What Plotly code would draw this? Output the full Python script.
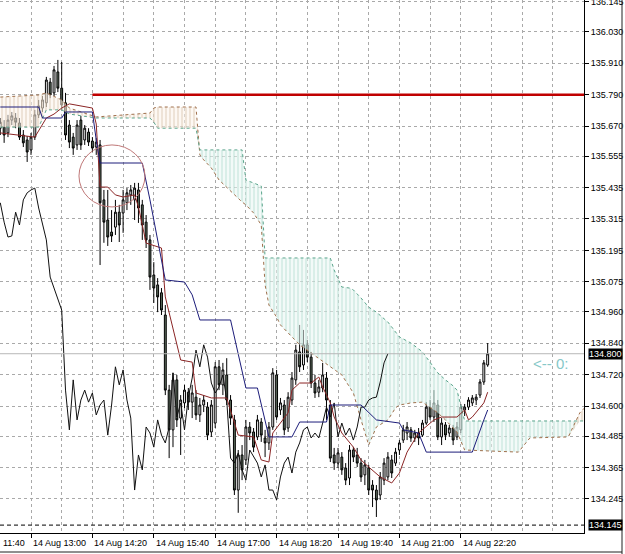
import numpy as np
import pandas as pd
import plotly.graph_objects as go

# ---------------- data (M5 bars) ----------------
first_bar = "2014-08-14 12:20"
bar_minutes = 5

opens = [135.662, 135.666, 135.644, 135.693, 135.701, 135.682, 135.636, 135.617, 135.579, 135.628,
         135.713, 135.739, 135.759, 135.838, 135.797, 135.877, 135.815, 135.759, 135.674, 135.628,
         135.598, 135.693, 135.617, 135.647, 135.613, 135.590, 135.598, 135.388, 135.311, 135.265,
         135.284, 135.341, 135.338, 135.377, 135.407, 135.388, 135.426, 135.369, 135.303, 135.235,
         135.101, 135.063, 135.033, 134.948, 134.661, 134.509, 134.700, 134.554, 134.612, 134.653,
         134.615, 134.634, 134.566, 134.604, 134.596, 134.501, 134.535, 134.750, 134.681, 134.719,
         134.623, 134.547, 134.279, 134.413, 134.394, 134.520, 134.501, 134.482, 134.539, 134.478,
         134.459, 134.520, 134.719, 134.585, 134.604, 134.516, 134.623, 134.700, 134.807, 134.757,
         134.834, 134.787, 134.688, 134.653, 134.669, 134.707, 134.604, 134.413, 134.382, 134.405,
         134.363, 134.325, 134.432, 134.413, 134.382, 134.337, 134.363, 134.298, 134.279, 134.260,
         134.317, 134.329, 134.394, 134.382, 134.432, 134.470, 134.497, 134.509, 134.478, 134.497,
         134.489, 134.535, 134.596, 134.558, 134.604, 134.482, 134.528, 134.497, 134.516, 134.482,
         134.509, 134.585, 134.596, 134.612, 134.623, 134.642, 134.692, 134.757]
highs = [135.701, 135.693, 135.713, 135.724, 135.720, 135.701, 135.655, 135.632, 135.644, 135.732,
         135.770, 135.785, 135.858, 135.854, 135.900, 135.923, 135.915, 135.797, 135.693, 135.644,
         135.693, 135.709, 135.674, 135.662, 135.628, 135.624, 135.617, 135.426, 135.426, 135.349,
         135.388, 135.369, 135.426, 135.433, 135.445, 135.453, 135.453, 135.388, 135.330, 135.254,
         135.150, 135.089, 135.051, 134.986, 134.681, 134.727, 134.719, 134.642, 134.681, 134.669,
         134.681, 134.661, 134.631, 134.642, 134.615, 134.623, 134.768, 134.776, 134.765, 134.783,
         134.642, 134.566, 134.432, 134.451, 134.547, 134.539, 134.516, 134.566, 134.554, 134.509,
         134.539, 134.745, 134.738, 134.631, 134.623, 134.653, 134.730, 134.834, 134.910, 134.891,
         134.853, 134.807, 134.719, 134.700, 134.765, 134.730, 134.623, 134.440, 134.440, 134.424,
         134.382, 134.451, 134.444, 134.440, 134.401, 134.394, 134.375, 134.317, 134.298, 134.348,
         134.401, 134.424, 134.413, 134.440, 134.470, 134.528, 134.539, 134.520, 134.509, 134.516,
         134.547, 134.615, 134.623, 134.661, 134.623, 134.554, 134.539, 134.528, 134.528, 134.539,
         134.608, 134.608, 134.634, 134.642, 134.646, 134.703, 134.776, 134.841]
lows = [135.636, 135.606, 135.628, 135.674, 135.662, 135.617, 135.590, 135.533, 135.560, 135.617,
        135.701, 135.724, 135.743, 135.777, 135.785, 135.800, 135.732, 135.617, 135.586, 135.560,
        135.579, 135.579, 135.598, 135.594, 135.571, 135.560, 135.139, 135.224, 135.212, 135.227,
        135.254, 135.227, 135.262, 135.349, 135.369, 135.311, 135.300, 135.235, 135.204, 135.044,
        134.994, 134.959, 134.948, 134.642, 134.401, 134.443, 134.520, 134.413, 134.592, 134.585,
        134.554, 134.547, 134.539, 134.577, 134.470, 134.482, 134.516, 134.661, 134.642, 134.604,
        134.528, 134.260, 134.192, 134.317, 134.375, 134.470, 134.424, 134.470, 134.463, 134.405,
        134.432, 134.509, 134.547, 134.566, 134.489, 134.501, 134.604, 134.681, 134.730, 134.738,
        134.768, 134.669, 134.631, 134.634, 134.653, 134.547, 134.386, 134.356, 134.363, 134.337,
        134.298, 134.298, 134.386, 134.367, 134.310, 134.298, 134.260, 134.214, 134.176, 134.241,
        134.298, 134.317, 134.325, 134.371, 134.413, 134.459, 134.470, 134.463, 134.463, 134.451,
        134.482, 134.528, 134.547, 134.539, 134.470, 134.451, 134.470, 134.482, 134.451, 134.470,
        134.497, 134.562, 134.585, 134.600, 134.604, 134.631, 134.681, 134.750]
closes = [135.685, 135.636, 135.693, 135.709, 135.685, 135.628, 135.606, 135.571, 135.628, 135.713,
          135.747, 135.770, 135.846, 135.789, 135.885, 135.815, 135.751, 135.636, 135.609, 135.586,
          135.674, 135.598, 135.662, 135.609, 135.586, 135.609, 135.377, 135.303, 135.246, 135.250,
          135.341, 135.292, 135.388, 135.415, 135.426, 135.433, 135.357, 135.292, 135.235, 135.093,
          135.051, 135.017, 134.967, 134.661, 134.509, 134.700, 134.547, 134.623, 134.661, 134.615,
          134.650, 134.566, 134.604, 134.623, 134.489, 134.604, 134.750, 134.681, 134.738, 134.623,
          134.554, 134.279, 134.413, 134.356, 134.520, 134.497, 134.443, 134.547, 134.489, 134.459,
          134.520, 134.727, 134.558, 134.612, 134.509, 134.634, 134.707, 134.814, 134.750, 134.834,
          134.787, 134.688, 134.650, 134.673, 134.719, 134.623, 134.401, 134.382, 134.421, 134.356,
          134.317, 134.432, 134.405, 134.382, 134.329, 134.375, 134.279, 134.279, 134.241, 134.329,
          134.382, 134.405, 134.344, 134.424, 134.459, 134.509, 134.520, 134.478, 134.497, 134.478,
          134.535, 134.596, 134.558, 134.612, 134.482, 134.535, 134.489, 134.516, 134.470, 134.520,
          134.596, 134.596, 134.623, 134.631, 134.634, 134.692, 134.765, 134.800]

# Ichimoku lines (bar index of each vertex, value)
tenkan_bars = [0, 9, 12, 14, 16, 18, 24, 25, 26, 28, 30, 32, 35, 36, 38, 42, 43, 47, 50, 51, 55, 59,
               62, 66, 68, 70, 71, 75, 76, 78, 81, 83, 84, 86, 87, 89, 92, 94, 96, 99, 102, 104, 106,
               109, 113, 115, 119, 121, 122, 123, 126, 127]
tenkan = [135.644, 135.628, 135.701, 135.716, 135.739, 135.755, 135.739, 135.678, 135.437, 135.437,
          135.407, 135.399, 135.407, 135.361, 135.223, 135.204, 135.017, 134.776, 134.768, 134.650,
          134.631, 134.631, 134.489, 134.482, 134.394, 134.386, 134.497, 134.574, 134.661, 134.688,
          134.688, 134.711, 134.673, 134.612, 134.558, 134.497, 134.443, 134.394, 134.367, 134.329,
          134.306, 134.344, 134.424, 134.497, 134.547, 134.558, 134.558, 134.585, 134.547, 134.558,
          134.612, 134.653]
kijun_bars = [0, 10, 11, 16, 17, 24, 25, 26, 37, 38, 39, 42, 43, 48, 50, 52, 60, 64, 67, 70, 76, 78,
              85, 86, 94, 98, 104, 105, 109, 111, 123, 126, 127]
kijun = [135.743, 135.743, 135.701, 135.701, 135.724, 135.724, 135.617, 135.529, 135.529, 135.464,
         135.388, 135.158, 135.082, 135.074, 135.025, 134.929, 134.929, 134.669, 134.669, 134.482,
         134.482, 134.539, 134.539, 134.604, 134.604, 134.547, 134.535, 134.509, 134.497, 134.424,
         134.424, 134.547, 134.585]
cloud_bars = [0, 10, 12, 16, 18, 25, 39, 40, 41, 51, 52, 53, 55, 57, 63, 64, 66, 68, 69, 70, 72, 73,
              78, 81, 86, 87, 89, 91, 92, 94, 96, 98, 101, 103, 104, 107, 110, 114, 116, 118, 119,
              121, 135, 138, 148, 151, 153]
senkou_a = [135.781, 135.789, 135.797, 135.770, 135.739, 135.705, 135.720, 135.739, 135.743, 135.743,
            135.560, 135.541, 135.510, 135.464, 135.380, 135.369, 135.338, 135.292, 135.063, 134.986,
            134.940, 134.910, 134.834, 134.803, 134.750, 134.738, 134.719, 134.673, 134.650, 134.547,
            134.451, 134.520, 134.547, 134.593, 134.604, 134.612, 134.615, 134.574, 134.547, 134.516,
            134.501, 134.432, 134.424, 134.478, 134.482, 134.574, 134.604]
senkou_b = [135.666, 135.666, 135.732, 135.732, 135.716, 135.701, 135.701, 135.685, 135.662, 135.662,
            135.579, 135.579, 135.579, 135.579, 135.579, 135.464, 135.453, 135.441, 135.166, 135.166,
            135.166, 135.166, 135.166, 135.166, 135.166, 135.120, 135.055, 135.051, 135.044, 135.013,
            134.978, 134.959, 134.921, 134.883, 134.864, 134.841, 134.807, 134.727, 134.700, 134.677,
            134.661, 134.543, 134.543, 134.543, 134.543, 134.543, 134.543]
chikou_shift = 26

resistance_level = 135.790
resistance_from = "2014-08-14 14:20"
current_price = 134.800
marker_price = 134.145
circle_box = dict(t0="2014-08-14 14:02:30", t1="2014-08-14 15:28:30", p0=135.361, p1=135.598)

price_ticks = [136.145, 136.030, 135.910, 135.790, 135.670, 135.555, 135.435, 135.315, 135.195,
               135.075, 134.960, 134.840, 134.720, 134.600, 134.485, 134.365, 134.245]
time_labels = ["13:00", "14:20", "15:40", "17:00", "18:20", "19:40", "21:00", "22:20"]
day_label = "14 Aug"
view_start, view_end = "2014-08-14 12:19:37", "2014-08-15 01:00:30"
price_range = [134.1148, 136.152]

# ---------------- figure ----------------
FONT = "Liberation Sans, Arial, sans-serif"
GRID = "#a9a9a9"
t0 = pd.Timestamp(first_bar)
step = pd.Timedelta(minutes=bar_minutes)


def times(idx):
    return [t0 + step * int(i) for i in idx]


n = len(closes)
fig = go.Figure()

A = np.array(senkou_a)
B = np.array(senkou_b)
lo = np.minimum(A, B)
teal_top = np.where(B > A, B, lo)
brown_top = np.where(A > B, A, lo)
cx = times(cloud_bars)

for top, fg, bg in [(teal_top, "#8ccab6", "rgba(232,246,241,0.55)"),
                    (brown_top, "#c4a284", "rgba(250,241,232,0.55)")]:
    fig.add_trace(go.Scatter(x=cx, y=lo, mode="lines", line=dict(width=0),
                             hoverinfo="skip", showlegend=False))
    fig.add_trace(go.Scatter(x=cx, y=top, mode="lines", line=dict(width=0), fill="tonexty",
                             fillcolor=bg,
                             fillpattern=dict(shape="|", fgcolor=fg, bgcolor=bg, size=4, solidity=0.25),
                             hoverinfo="skip", showlegend=False))

fig.add_trace(go.Scatter(x=cx, y=senkou_a, mode="lines", line=dict(color="#a0704c", width=1, dash="dot"),
                         showlegend=False))
fig.add_trace(go.Scatter(x=cx, y=senkou_b, mode="lines", line=dict(color="#5aa58c", width=1, dash="dot"),
                         showlegend=False))

# Chikou span: closes plotted 26 bars back
fig.add_trace(go.Scatter(x=times(range(n - chikou_shift)), y=closes[chikou_shift:], mode="lines",
                         line=dict(color="#101010", width=1), showlegend=False))

fig.add_trace(go.Candlestick(
    x=times(range(n)), open=opens, high=highs, low=lows, close=closes,
    increasing=dict(line=dict(color="#000000", width=1), fillcolor="#ffffff"),
    decreasing=dict(line=dict(color="#000000", width=1), fillcolor="#5f6f5f"),
    whiskerwidth=0, showlegend=False))

fig.add_trace(go.Scatter(x=times(tenkan_bars), y=tenkan, mode="lines",
                         line=dict(color="#8b2525", width=1), showlegend=False))
fig.add_trace(go.Scatter(x=times(kijun_bars), y=kijun, mode="lines",
                         line=dict(color="#1c1c7a", width=1), showlegend=False))

shapes = [
    dict(type="line", xref="x", yref="y", x0=resistance_from, x1=view_end,
         y0=resistance_level, y1=resistance_level, line=dict(color="#c00000", width=2.6)),
    dict(type="circle", xref="x", yref="y", x0=circle_box["t0"], x1=circle_box["t1"],
         y0=circle_box["p0"], y1=circle_box["p1"], line=dict(color="#c07878", width=1)),
    dict(type="line", xref="paper", yref="y", x0=0, x1=1, y0=current_price, y1=current_price,
         line=dict(color="#b8b8b8", width=1)),
    dict(type="line", xref="paper", yref="y", x0=0, x1=1, y0=marker_price, y1=marker_price,
         line=dict(color="#000000", width=1, dash="4px,3px")),
    dict(type="line", xref="paper", yref="paper", x0=622 / 584, x1=622 / 584, y0=-21 / 533, y1=1,
         line=dict(color="#202020", width=1)),
    dict(type="line", xref="paper", yref="paper", x0=0, x1=622 / 584, y0=-19 / 533, y1=-19 / 533,
         line=dict(color="#202020", width=1)),
]

annotations = []
for tl in time_labels:
    annotations.append(dict(x=f"2014-08-14 {tl}", xref="x", y=0, yref="paper", yshift=-3,
                            xanchor="left", yanchor="top", showarrow=False,
                            text=f"{day_label} {tl}", font=dict(family=FONT, size=9, color="#000")))
annotations.append(dict(x=0, xref="paper", y=0, yref="paper", yshift=-3, xshift=1,
                        xanchor="left", yanchor="top", showarrow=False, text="11:40",
                        font=dict(family=FONT, size=9, color="#000")))
# top price label, partly cut by the page edge as in the original
annotations.append(dict(x=1, xref="paper", y=price_ticks[0], yref="y", xanchor="left", xshift=5,
                        yanchor="middle", showarrow=False, text=f"{price_ticks[0]:.3f}",
                        font=dict(family=FONT, size=9, color="#000")))
for p in [current_price, marker_price]:
    annotations.append(dict(x=1, xref="paper", y=p, yref="y", xanchor="left", xshift=4,
                            yanchor="middle", showarrow=False, text=f"{p:.3f}",
                            bgcolor="#000000", borderpad=0,
                            font=dict(family=FONT, size=9, color="#ffffff")))
annotations.append(dict(x=531 / 584, xref="paper", y=current_price, yref="y", yshift=-10,
                        xanchor="left", yanchor="middle", showarrow=False, text="<-- 0:",
                        font=dict(family=FONT, size=15, color="#86c8c8")))

fig.update_layout(
    width=625, height=554,
    margin=dict(l=0, r=41, t=0, b=21),
    paper_bgcolor="#ffffff", plot_bgcolor="#ffffff",
    showlegend=False, hovermode=False,
    shapes=shapes, annotations=annotations,
    xaxis=dict(type="date", range=[view_start, view_end],
               tickvals=[f"2014-08-14 {tl}" for tl in time_labels],
               showticklabels=False, ticks="outside", ticklen=4, tickcolor="#000",
               showline=True, linecolor="#000", linewidth=1,
               showgrid=True, gridcolor=GRID, griddash="3px,3px", gridwidth=1,
               minor=dict(tick0=first_bar, dtick=40 * 60 * 1000, showgrid=True,
                          gridcolor=GRID, griddash="3px,3px", gridwidth=1),
               rangeslider=dict(visible=False), zeroline=False),
    yaxis=dict(side="right", range=price_range, tickvals=price_ticks, tickformat=".3f",
               ticks="outside", ticklen=4, tickcolor="#000",
               tickfont=dict(family=FONT, size=9, color="#000"),
               showline=True, linecolor="#000", linewidth=1,
               showgrid=True, gridcolor=GRID, griddash="3px,3px", gridwidth=1, zeroline=False),
)

fig.write_html("out.html")
